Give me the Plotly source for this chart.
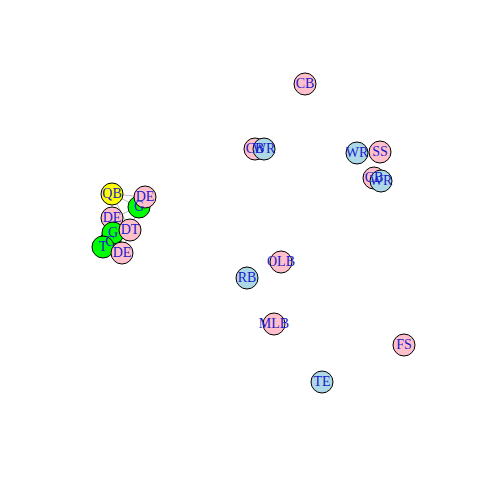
import plotly.graph_objects as go

# Node data (layout coordinates)
labels = ["CB", "CB", "WR", "WR", "SS", "CB", "WR", "OLB", "RB", "MLB", "FS", "TE",
          "QB", "G", "DE", "DE", "C", "G", "DT", "T", "DE"]
xs = [305, 255, 264, 357, 380, 374, 381, 281, 247, 274, 404, 322,
      112, 139, 145, 112, 110, 113, 130, 103, 122]
ys = [84, 149, 149, 153, 152, 178, 181, 262, 278, 324, 345, 382,
      194, 207, 197, 218, 242, 233, 230, 247, 253]
groups = ["pink", "pink", "lightblue", "lightblue", "pink", "pink", "lightblue", "pink",
          "lightblue", "pink", "pink", "lightblue",
          "yellow", "green", "pink", "pink", "green", "green", "pink", "green", "pink"]
color_map = {"pink": "#FFC0CB", "lightblue": "#ADD8E6", "green": "#00FF00", "yellow": "#FFFF00"}

# Edges (index pairs)
edges = [(12, 13), (12, 14), (12, 15), (12, 18), (13, 14), (13, 18), (13, 15),
         (15, 17), (15, 18), (17, 16), (16, 19), (17, 18), (18, 20), (17, 20), (16, 20), (19, 20)]

fig = go.Figure()
ex, ey = [], []
for a, b in edges:
    ex += [xs[a], xs[b], None]
    ey += [ys[a], ys[b], None]
fig.add_trace(go.Scatter(x=ex, y=ey, mode="lines", line=dict(color="#BEBEBE", width=1),
                         hoverinfo="skip", showlegend=False))
for i in range(len(xs)):
    fig.add_trace(go.Scatter(x=[xs[i]], y=[ys[i]], mode="markers",
                             marker=dict(size=22, color=color_map[groups[i]],
                                         line=dict(color="black", width=1)),
                             showlegend=False))
fig.add_trace(go.Scatter(x=xs, y=ys, mode="text", text=labels,
                         textfont=dict(family="Liberation Serif", size=14, color="#1a1acc"),
                         showlegend=False))
fig.update_layout(width=480, height=480, margin=dict(l=0, r=0, t=0, b=0),
                  plot_bgcolor="white", paper_bgcolor="white",
                  xaxis=dict(range=[0, 480], visible=False),
                  yaxis=dict(range=[480, 0], visible=False))
fig.write_html("out.html")
